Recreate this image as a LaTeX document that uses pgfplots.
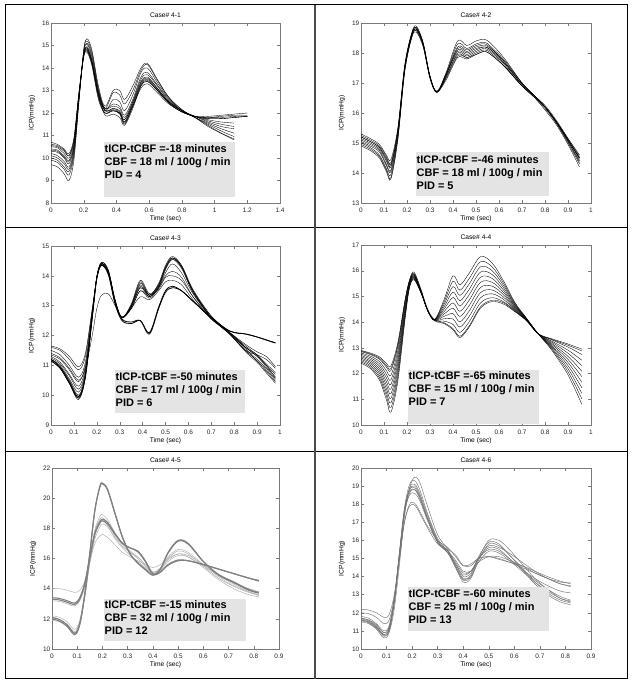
\documentclass[border=0pt]{standalone}
\usepackage{pgfplots}
\pgfplotsset{compat=1.18}
\usepackage{pgfplotstable}
\usepackage{fontspec}
\setmainfont{Liberation Sans}

\definecolor{boxgray}{HTML}{E4E4E4}
\definecolor{axgray}{HTML}{7A7A7A}

\pgfplotsset{
  icp/.style={
    scale only axis,
    axis line style={draw=axgray, line width=0.5bp},
    every tick/.style={draw=axgray, line width=0.4bp},
    tick align=inside, major tick length=3bp,
    xtick pos=both, ytick pos=both,
    xticklabel pos=lower, yticklabel pos=left,
    /pgf/number format/assume math mode=true,
    tick label style={font=\fontsize{6.5}{7}\selectfont, text=black!85},
    xticklabel style={inner sep=0pt, anchor=north, yshift=-4.5bp},
    yticklabel style={inner sep=0pt, anchor=east, xshift=-1.5bp},
    title style={font=\fontsize{6.7}{7}\selectfont, at={(axis description cs:0.5,1)}, anchor=south, inner sep=0pt, yshift=-0.8bp},
    xlabel style={font=\fontsize{6.7}{7}\selectfont, at={(axis description cs:0.5,0)}, anchor=north, inner sep=0pt, yshift=-12.5bp},
    ylabel style={font=\fontsize{6.7}{7}\selectfont, at={(axis description cs:-0.083,0.5)}, anchor=center, inner sep=0pt},
    xlabel={Time (sec)}, ylabel={ICP(mmHg)},
    unbounded coords=discard,
  },
  blk/.style={black, line width=0.35bp, smooth, tension=0.55, no marks},
}

% ---------- Case 4-1 ----------
\pgfplotstableread{
c v0 v1 v2 v3 v4 v5 v6 v7 v8 v9 v10 v11 v12 v13 v14 v15 v16 v17 v18 v19 v20 v21 v22 v23 v24
x 0 0.04 0.08 0.11 0.14 0.17 0.2 0.22 0.25 0.29 0.33 0.38 0.42 0.45 0.5 0.55 0.59 0.65 0.72 0.8 0.88 0.96 1.04 1.12 1.2
y1 10.7 10.6 10.4 10.2 10.9 12.9 14.5 14.7 14.1 12.6 12.0 12.1 12.0 11.6 12.3 13.1 13.3 12.9 12.4 12.05 11.85 11.85 11.9 11.95 12.0
y2 10.6 10.55 10.35 10.1 10.8 12.8 14.6 14.8 14.2 12.7 12.0 12.15 12.0 11.55 12.3 13.2 13.4 13.0 12.45 12.05 11.85 11.8 11.85 11.9 11.9
y3 10.5 10.45 10.2 10.0 10.7 12.8 14.6 14.85 14.3 12.8 12.1 12.2 12.05 11.6 12.4 13.3 13.5 13.05 12.5 12.1 11.85 11.75 11.75 11.8 11.85
y4 10.4 10.35 10.1 9.9 10.6 12.7 14.5 14.8 14.2 12.7 12.0 12.1 11.95 11.5 12.3 13.25 13.45 13.0 12.45 12.05 11.85 11.7 11.6 11.55 nan
y5 10.3 10.25 10.0 9.75 10.5 12.7 14.6 14.9 14.3 12.9 12.2 12.3 12.2 11.8 12.5 13.4 13.6 13.1 12.5 12.1 11.85 11.65 11.5 11.4 nan
y6 10.2 10.1 9.85 9.6 10.4 12.6 14.6 14.95 14.4 12.9 12.1 12.2 12.1 11.7 12.5 13.5 13.7 13.2 12.55 12.1 11.85 11.6 11.4 11.3 nan
y7 10.1 10.0 9.75 9.5 10.3 12.6 14.7 15.05 14.5 13.0 12.2 12.4 12.3 11.9 12.6 13.6 13.8 13.25 12.6 12.1 11.8 11.55 11.3 11.1 nan
y8 10.0 9.9 9.6 9.4 10.2 12.5 14.7 15.1 14.6 13.0 12.1 12.6 12.5 12.1 12.8 13.8 14.0 13.35 12.65 12.1 11.8 11.5 11.2 10.95 nan
y9 9.9 9.8 9.5 9.25 10.1 12.5 14.8 15.2 14.7 13.1 12.2 12.9 12.8 12.4 13.0 13.9 14.15 13.45 12.7 12.15 11.8 11.45 11.1 10.8 nan
y10 9.7 9.6 9.3 9.0 9.9 12.4 14.8 15.3 14.8 13.2 12.3 13.0 13.0 12.6 13.2 14.0 14.2 13.5 12.7 12.15 11.8 11.4 11.1 10.85 nan
y11 10.35 10.3 10.05 9.85 10.5 12.7 14.5 14.75 14.2 12.8 11.9 11.95 11.8 11.45 12.2 13.2 13.4 13.0 12.45 12.05 11.85 11.75 11.75 11.8 11.85
y12 10.55 10.5 10.3 10.1 10.8 12.8 14.6 14.9 14.3 12.8 12.15 12.1 12.0 11.7 12.4 13.35 13.55 13.1 12.5 12.1 11.85 11.8 11.8 11.85 11.85
}\rawA
\pgfplotstabletranspose[colnames from=c]\tabA{\rawA}

% ---------- Case 4-2 ----------
\pgfplotstableread{
c v0 v1 v2 v3 v4 v5 v6 v7 v8 v9 v10 v11 v12 v13 v14 v15 v16 v17 v18 v19 v20 v21 v22 v23 v24
x 0 0.04 0.08 0.11 0.13 0.16 0.19 0.22 0.24 0.27 0.3 0.33 0.37 0.42 0.46 0.5 0.54 0.58 0.63 0.7 0.75 0.8 0.85 0.9 0.95
y1 15.3 15.15 14.95 14.6 14.45 15.5 17.6 18.65 18.85 18.3 17.2 16.72 17.35 18.4 18.25 18.4 18.45 18.2 17.75 17.0 16.6 16.2 15.65 15.0 14.3
y2 15.25 15.1 14.9 14.55 14.35 15.45 17.55 18.6 18.85 18.35 17.25 16.7 17.3 18.3 18.15 18.3 18.35 18.1 17.7 17.0 16.6 16.2 15.7 15.05 14.4
y3 15.2 15.05 14.85 14.45 14.25 15.4 17.55 18.65 18.9 18.35 17.2 16.68 17.25 18.2 18.1 18.25 18.3 18.05 17.65 16.95 16.6 16.2 15.7 15.1 14.5
y4 15.15 15.0 14.8 14.4 14.2 15.35 17.5 18.6 18.8 18.3 17.2 16.7 17.25 18.1 18.0 18.15 18.2 18.0 17.6 16.95 16.6 16.25 15.75 15.15 14.55
y5 15.1 14.95 14.75 14.3 14.1 15.3 17.5 18.6 18.8 18.3 17.2 16.7 17.3 18.05 17.95 18.1 18.2 18.0 17.6 16.95 16.6 16.2 15.7 15.1 14.5
y6 15.05 14.9 14.7 14.25 14.05 15.25 17.45 18.55 18.75 18.25 17.15 16.68 17.2 18.0 17.9 18.05 18.15 17.95 17.55 16.9 16.55 16.2 15.7 15.15 14.6
y7 15.0 14.85 14.6 14.15 13.95 15.2 17.45 18.55 18.8 18.3 17.2 16.7 17.2 17.95 17.85 18.0 18.1 17.9 17.5 16.9 16.55 16.15 15.65 15.05 14.35
y8 14.95 14.8 14.55 14.1 13.85 15.15 17.4 18.5 18.75 18.25 17.2 16.72 17.15 17.9 17.85 17.95 18.05 17.85 17.5 16.9 16.55 16.1 15.6 14.95 14.2
y9 15.2 15.05 14.85 14.5 14.3 15.4 17.5 18.6 18.85 18.3 17.2 16.7 17.3 18.15 18.05 18.2 18.25 18.05 17.65 17.0 16.6 16.2 15.7 15.1 14.45
y10 14.9 14.75 14.5 14.05 13.8 15.1 17.35 18.5 18.7 18.2 17.15 16.7 17.1 17.85 17.8 17.95 18.05 17.85 17.5 16.9 16.6 16.2 15.7 15.1 14.5
}\rawB
\pgfplotstabletranspose[colnames from=c]\tabB{\rawB}

% ---------- Case 4-3 ----------
\pgfplotstableread{
c v0 v1 v2 v3 v4 v5 v6 v7 v8 v9 v10 v11 v12 v13 v14 v15 v16 v17 v18 v19 v20 v21 v22 v23 v24
x 0 0.04 0.08 0.12 0.15 0.18 0.2 0.22 0.25 0.28 0.31 0.35 0.39 0.43 0.47 0.5 0.53 0.57 0.62 0.7 0.78 0.85 0.9 0.94 0.98
y1 11.65 11.55 11.3 10.95 11.4 12.9 13.9 14.35 14.1 13.1 12.6 12.9 13.5 13.3 13.6 14.2 14.55 14.3 13.5 12.65 12.1 11.6 11.3 11.0 10.7
y2 11.6 11.5 11.2 10.85 11.3 12.85 13.95 14.4 14.15 13.15 12.6 12.95 13.6 13.3 13.65 14.25 14.6 14.35 13.55 12.65 12.1 11.55 11.2 10.9 10.55
y3 11.5 11.35 11.0 10.6 11.1 12.8 13.95 14.4 14.15 13.15 12.62 13.0 13.7 13.35 13.7 14.3 14.6 14.3 13.5 12.6 12.05 11.5 11.15 10.8 10.45
y4 11.3 11.1 10.7 10.3 10.9 12.7 13.95 14.4 14.15 13.15 12.62 13.0 13.75 13.35 13.75 14.35 14.65 14.35 13.5 12.6 12.05 11.45 11.1 10.75 10.4
y5 11.2 10.95 10.5 10.0 10.7 12.65 13.95 14.45 14.2 13.2 12.6 13.05 13.85 13.4 13.7 14.3 14.6 14.3 13.45 12.6 12.05 11.5 11.15 10.85 10.5
y6 11.15 10.9 10.4 9.85 10.6 12.6 13.95 14.45 14.2 13.2 12.6 13.0 13.8 13.35 13.65 14.25 14.55 14.25 13.45 12.6 12.05 11.6 11.35 11.0 10.6
y7 11.15 10.9 10.4 9.9 10.6 12.6 13.95 14.4 14.1 13.1 12.55 12.45 12.5 12.05 12.9 13.45 13.6 13.5 13.15 12.6 12.15 12.05 11.95 11.85 11.75
y8 11.2 10.95 10.45 9.95 10.65 12.6 13.9 14.35 14.05 13.05 12.5 12.4 12.5 12.1 12.95 13.5 13.65 13.5 13.15 12.6 12.15 12.05 11.95 11.85 11.75
y9 11.4 11.25 10.9 10.5 10.9 12.0 12.9 13.35 13.4 13.0 12.6 12.9 13.3 13.2 13.5 13.8 13.85 13.7 13.2 12.55 12.1 11.6 11.3 10.95 10.6
y10 11.35 11.2 10.85 10.45 11.0 12.75 13.9 14.35 14.1 13.1 12.6 12.9 13.5 13.25 13.6 14.1 14.4 14.1 13.4 12.6 12.05 11.5 11.35 11.2 10.9
y11 11.25 11.05 10.65 10.2 10.8 12.7 13.95 14.4 14.15 13.15 12.6 12.95 13.65 13.3 13.6 14.0 14.15 13.95 13.3 12.55 12.1 11.7 11.45 11.3 10.95
y12 11.2 11.0 10.55 10.1 10.75 12.65 13.95 14.4 14.15 13.15 12.6 12.95 13.6 13.35 13.55 13.95 14.0 13.85 13.3 12.6 12.1 11.65 11.35 11.05 10.75
}\rawC
\pgfplotstabletranspose[colnames from=c]\tabC{\rawC}

% ---------- Case 4-4 ----------
\pgfplotstableread{
c v0 v1 v2 v3 v4 v5 v6 v7 v8 v9 v10 v11 v12 v13 v14 v15 v16 v17 v18 v19 v20 v21 v22 v23 v24
x 0 0.04 0.08 0.11 0.13 0.16 0.19 0.21 0.23 0.26 0.29 0.32 0.36 0.4 0.43 0.47 0.52 0.57 0.62 0.67 0.72 0.77 0.83 0.9 0.96
y1 12.9 12.8 12.65 12.4 12.3 13.2 14.8 15.6 15.9 15.25 14.45 14.05 13.95 13.7 13.4 13.8 14.55 14.8 14.7 14.4 14.05 13.55 13.35 13.15 12.95
y2 12.85 12.74 12.56 12.26 12.12 13.05 14.72 15.57 15.88 15.24 14.45 14.06 14.04 13.91 13.6 14.01 14.75 14.95 14.79 14.44 14.06 13.55 13.31 13.03 12.74
y3 12.8 12.68 12.47 12.12 11.94 12.9 14.64 15.54 15.85 15.23 14.45 14.06 14.13 14.12 13.81 14.22 14.95 15.1 14.88 14.47 14.07 13.55 13.26 12.91 12.52
y4 12.75 12.62 12.38 11.98 11.76 12.75 14.56 15.51 15.83 15.22 14.45 14.07 14.22 14.33 14.01 14.43 15.15 15.25 14.97 14.51 14.08 13.55 13.22 12.79 12.31
y5 12.7 12.56 12.29 11.84 11.58 12.6 14.48 15.48 15.8 15.21 14.45 14.07 14.31 14.54 14.22 14.64 15.35 15.4 15.06 14.54 14.09 13.55 13.17 12.67 12.09
y6 12.65 12.5 12.2 11.7 11.4 12.45 14.4 15.45 15.78 15.2 14.45 14.08 14.4 14.75 14.42 14.85 15.55 15.55 15.15 14.58 14.1 13.55 13.13 12.55 11.88
y7 12.6 12.44 12.11 11.56 11.22 12.3 14.32 15.42 15.75 15.19 14.45 14.08 14.49 14.96 14.63 15.06 15.75 15.7 15.24 14.61 14.11 13.55 13.08 12.43 11.66
y8 12.55 12.38 12.02 11.42 11.04 12.15 14.24 15.39 15.73 15.18 14.45 14.09 14.58 15.17 14.83 15.27 15.95 15.85 15.33 14.65 14.12 13.55 13.04 12.31 11.45
y9 12.5 12.32 11.93 11.28 10.86 12.0 14.16 15.36 15.7 15.17 14.45 14.09 14.67 15.38 15.04 15.48 16.15 16.0 15.42 14.68 14.13 13.55 12.99 12.19 11.23
y10 12.45 12.26 11.84 11.14 10.68 11.85 14.08 15.33 15.68 15.16 14.45 14.1 14.76 15.59 15.24 15.69 16.35 16.15 15.51 14.72 14.14 13.55 12.95 12.07 11.02
y11 12.4 12.2 11.75 11.0 10.5 11.7 14.0 15.3 15.65 15.15 14.45 14.1 14.85 15.8 15.45 15.9 16.55 16.3 15.6 14.75 14.15 13.55 12.9 11.95 10.8
y12 12.88 12.77 12.6 12.33 12.2 13.12 14.76 15.62 15.95 15.3 14.5 14.1 13.98 13.75 13.45 13.85 14.6 14.85 14.75 14.42 14.06 13.55 13.33 13.1 12.88
}\rawD
\pgfplotstabletranspose[colnames from=c]\tabD{\rawD}

% ---------- Case 4-5 ----------
\pgfplotstableread{
c v0 v1 v2 v3 v4 v5 v6 v7 v8 v9 v10 v11 v12 v13 v14 v15 v16 v17 v18 v19 v20 v21 v22 v23 v24 v25
x 0 0.03 0.06 0.09 0.11 0.13 0.15 0.17 0.19 0.2 0.22 0.25 0.28 0.31 0.34 0.37 0.4 0.43 0.46 0.5 0.54 0.6 0.66 0.72 0.78 0.82
y1 12.0 11.85 11.5 10.95 11.6 13.6 16.3 19.2 20.8 21.0 20.6 19.0 17.4 16.3 15.7 15.3 14.9 15.3 16.4 17.2 17.0 15.8 14.9 14.4 13.9 13.7
y2 12.1 11.95 11.6 11.05 11.7 13.7 16.4 19.2 20.75 20.95 20.55 18.95 17.35 16.3 15.7 15.25 14.9 15.3 16.35 17.15 16.95 15.8 14.95 14.45 13.95 13.75
y3 13.3 13.25 13.1 12.95 13.3 14.3 16.0 17.6 18.35 18.5 18.3 17.6 17.0 16.7 16.45 15.8 14.95 15.1 15.6 15.9 15.85 15.6 15.3 15.0 14.7 14.5
y4 13.4 13.35 13.2 13.05 13.4 14.4 16.1 17.7 18.45 18.6 18.4 17.65 17.0 16.7 16.5 15.85 15.0 15.1 15.55 15.85 15.85 15.6 15.3 15.0 14.7 14.55
y5 14.0 14.0 13.9 13.75 13.9 14.5 15.8 17.0 17.5 17.6 17.4 16.9 16.4 16.1 15.85 15.6 15.4 15.6 16.0 16.3 16.2 15.6 14.9 14.3 13.8 13.55
y6 12.2 12.1 11.8 11.3 11.9 13.6 15.9 17.9 18.8 18.9 18.6 17.7 17.0 16.5 16.1 15.6 15.1 15.4 16.1 16.6 16.4 15.6 14.8 14.2 13.8 13.6
y7 12.05 11.95 11.65 11.15 11.8 13.5 15.8 17.8 18.6 18.7 18.4 17.5 16.9 16.4 16.0 15.5 15.05 15.3 16.0 16.5 16.3 15.5 14.7 14.15 13.75 13.55
y8 13.2 13.15 13.0 12.85 13.2 14.1 15.7 17.3 18.1 18.3 18.1 17.4 16.8 16.4 16.1 15.6 15.1 15.3 15.9 16.3 16.1 15.5 14.9 14.4 14.0 13.8
y9 11.9 11.8 11.5 11.0 11.6 13.4 15.7 17.6 18.4 18.5 18.2 17.3 16.7 16.2 15.8 15.4 15.0 15.2 15.8 16.2 16.1 15.4 14.6 14.0 13.6 13.45
}\rawE
\pgfplotstabletranspose[colnames from=c]\tabE{\rawE}

% ---------- Case 4-6 ----------
\pgfplotstableread{
c v0 v1 v2 v3 v4 v5 v6 v7 v8 v9 v10 v11 v12 v13 v14 v15 v16 v17 v18 v19 v20 v21 v22 v23 v24 v25
x 0 0.03 0.06 0.09 0.11 0.13 0.15 0.17 0.19 0.21 0.23 0.26 0.3 0.34 0.37 0.4 0.43 0.46 0.5 0.54 0.58 0.63 0.68 0.73 0.78 0.82
y1 12.2 12.15 12.0 11.75 11.9 13.0 15.0 17.0 18.0 18.05 17.6 16.8 16.0 15.6 15.1 14.6 14.7 15.0 15.1 15.0 14.8 14.5 14.2 13.9 13.7 13.65
y2 11.8 11.7 11.4 11.0 11.3 12.8 15.3 17.6 18.8 19.0 18.5 17.3 16.0 15.4 14.7 14.0 14.2 15.0 15.6 15.5 15.0 14.4 13.8 13.3 12.9 12.7
y3 11.6 11.5 11.2 10.7 11.0 12.6 15.3 17.8 19.1 19.3 18.8 17.5 16.1 15.4 14.5 13.7 13.9 14.9 15.8 15.7 15.2 14.4 13.6 13.0 12.6 12.45
y4 11.5 11.4 11.1 10.6 10.9 12.2 14.6 17.3 18.9 19.5 19.2 17.9 16.3 15.5 14.6 13.8 14.0 15.0 16.0 16.0 15.5 14.7 13.9 13.3 12.8 12.6
y5 11.7 11.6 11.3 10.9 11.2 12.7 15.1 17.5 18.5 18.6 18.2 17.1 15.9 15.4 14.8 14.2 14.3 15.0 15.5 15.4 15.0 14.4 13.9 13.5 13.2 13.1
y6 12.0 11.95 11.75 11.4 11.6 12.8 14.9 17.0 17.9 17.95 17.5 16.7 15.8 15.5 15.2 14.6 14.6 15.0 15.1 14.95 14.8 14.6 14.3 14.0 13.75 13.6
y7 11.55 11.45 11.15 10.75 11.0 12.5 15.0 17.6 18.9 19.1 18.6 17.4 16.0 15.3 14.5 13.85 14.1 15.1 15.9 15.8 15.2 14.5 13.7 13.1 12.7 12.55
y8 11.65 11.55 11.25 10.8 11.1 12.6 15.1 17.5 18.6 18.8 18.4 17.2 15.9 15.3 14.6 13.9 14.0 14.8 15.4 15.3 14.9 14.3 13.7 13.2 12.8 12.65
y9 11.7 11.6 11.35 10.9 11.2 12.7 15.2 17.7 18.8 18.9 18.4 17.2 15.9 15.3 14.7 14.1 14.3 15.0 15.7 15.6 15.3 14.8 14.3 13.9 13.6 13.45
y10 11.6 11.5 11.2 10.8 11.1 12.7 15.2 17.7 18.7 18.8 18.3 17.2 15.9 15.4 14.9 14.3 14.3 14.8 15.1 15.1 14.9 14.6 14.2 13.9 13.6 13.5
}\rawF
\pgfplotstabletranspose[colnames from=c]\tabF{\rawF}

\begin{document}
\begin{tikzpicture}[x=1bp,y=1bp]
\path[use as bounding box] (0,0) rectangle (632,686);

% Case 4-1
\begin{axis}[icp, at={(51bp,483bp)}, anchor=south west, width=229bp, height=180bp,
  xmin=0, xmax=1.4, ymin=8, ymax=16,
  xtick={0,0.2,0.4,0.6,0.8,1,1.2,1.4}, ytick={8,9,10,11,12,13,14,15,16},
  title={Case\# 4-1}]
\pgfplotsinvokeforeach{1,...,12}{\addplot[blk] table[x=x,y=y#1]{\tabA};}
\end{axis}

% Case 4-2
\begin{axis}[icp, at={(361bp,483bp)}, anchor=south west, width=230bp, height=180bp,
  xmin=0, xmax=1, ymin=13, ymax=19,
  xtick={0,0.1,0.2,0.3,0.4,0.5,0.6,0.7,0.8,0.9,1}, ytick={13,14,15,16,17,18,19},
  title={Case\# 4-2}]
\pgfplotsinvokeforeach{1,...,10}{\addplot[blk] table[x=x,y=y#1]{\tabB};}
\end{axis}

% Case 4-3
\begin{axis}[icp, at={(51bp,261bp)}, anchor=south west, width=229bp, height=179bp,
  xmin=0, xmax=1, ymin=9, ymax=15,
  xtick={0,0.1,0.2,0.3,0.4,0.5,0.6,0.7,0.8,0.9,1}, ytick={9,10,11,12,13,14,15},
  title={Case\# 4-3}]
\pgfplotsinvokeforeach{1,2,3,4,5,6,9,10,11,12}{\addplot[blk] table[x=x,y=y#1]{\tabC};}
\pgfplotsinvokeforeach{7,8}{\addplot[blk, line width=0.8bp] table[x=x,y=y#1]{\tabC};}
\end{axis}

% Case 4-4
\begin{axis}[icp, at={(361bp,261bp)}, anchor=south west, width=230bp, height=180bp,
  xmin=0, xmax=1, ymin=10, ymax=17,
  xtick={0,0.1,0.2,0.3,0.4,0.5,0.6,0.7,0.8,0.9,1}, ytick={10,11,12,13,14,15,16,17},
  title={Case\# 4-4}]
\pgfplotsinvokeforeach{1,...,12}{\addplot[blk] table[x=x,y=y#1]{\tabD};}
\end{axis}

% Case 4-5
\begin{axis}[icp, at={(52bp,37bp)}, anchor=south west, width=227bp, height=181bp,
  xmin=0, xmax=0.9, ymin=10, ymax=22,
  xtick={0,0.1,0.2,0.3,0.4,0.5,0.6,0.7,0.8,0.9}, ytick={10,12,14,16,18,20,22},
  title={Case\# 4-5}]
\pgfplotsinvokeforeach{5,...,9}{\addplot[blk, draw=black!30, line width=0.5bp] table[x=x,y=y#1]{\tabE};}
\pgfplotsinvokeforeach{1,...,4}{\addplot[blk, draw=black!50, line width=1.1bp] table[x=x,y=y#1]{\tabE};}
\end{axis}

% Case 4-6
\begin{axis}[icp, at={(361bp,37bp)}, anchor=south west, width=230bp, height=181bp,
  xmin=0, xmax=0.9, ymin=10, ymax=20,
  xtick={0,0.1,0.2,0.3,0.4,0.5,0.6,0.7,0.8,0.9}, ytick={10,11,12,13,14,15,16,17,18,19,20},
  title={Case\# 4-6}]
\pgfplotsinvokeforeach{1,...,10}{\addplot[blk, draw=black!55, line width=0.45bp] table[x=x,y=y#1]{\tabF};}
\end{axis}

% annotation boxes
\tikzset{ann/.style={anchor=north west, inner sep=0pt, align=left, font=\fontsize{11}{13.3}\selectfont\bfseries}}
\fill[boxgray] (104,489) rectangle (235,544);
\node[ann] at (104.5,542) {tICP-tCBF =-18 minutes\\CBF = 18 ml / 100g / min\\PID = 4};
\fill[boxgray] (416,490) rectangle (549,534);
\node[ann] at (416.5,531) {tICP-tCBF =-46 minutes\\CBF = 18 ml / 100g / min\\PID = 5};
\fill[boxgray] (115,273) rectangle (245,316);
\node[ann] at (115.5,314) {tICP-tCBF =-50 minutes\\CBF = 17 ml / 100g / min\\PID = 6};
\fill[boxgray] (408,262) rectangle (539,316);
\node[ann] at (408.5,315) {tICP-tCBF =-65 minutes\\CBF = 15 ml / 100g / min\\PID = 7};
\fill[boxgray] (104,45) rectangle (246,87);
\node[ann] at (104.5,86) {tICP-tCBF =-15 minutes\\CBF = 32 ml / 100g / min\\PID = 12};
\fill[boxgray] (408,55) rectangle (549,99);
\node[ann] at (408.5,97) {tICP-tCBF =-60 minutes\\CBF = 25 ml / 100g / min\\PID = 13};

% frame
\draw[line width=1bp] (5,7) rectangle (627,681);
\draw[line width=1bp] (5,458) -- (627,458);
\draw[line width=1bp] (5,234) -- (627,234);
\draw[line width=1.4bp, black!70] (315,7) -- (315,681);
\end{tikzpicture}
\end{document}
